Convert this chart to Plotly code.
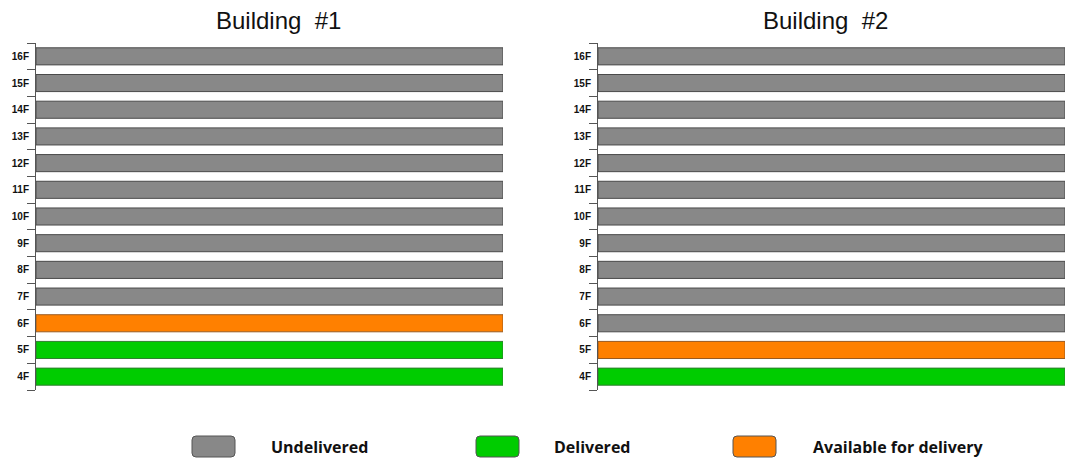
import plotly.graph_objects as go

# Floors of each building, bottom to top
floors = ["4F", "5F", "6F", "7F", "8F", "9F", "10F", "11F", "12F", "13F", "14F", "15F", "16F"]

# Delivery status per floor (same order as floors)
building1_status = ["Delivered", "Delivered", "Available for delivery"] + ["Undelivered"] * 10
building2_status = ["Delivered", "Available for delivery"] + ["Undelivered"] * 11

buildings = ["Building  #1", "Building  #2"]
statuses = ["Undelivered", "Delivered", "Available for delivery"]

fill = {"Undelivered": "#888888", "Delivered": "#00CC00", "Available for delivery": "#FF8000"}
edge = {"Undelivered": "#4a4a4a", "Delivered": "#2f7f2f", "Available for delivery": "#9a5a20"}

W, H = 1074, 460
domains = [(36 / W, 503 / W), (598 / W, 1065 / W)]
title_x = [278, 825]
ydom = (1 - 390 / H, 1 - 43 / H)

fig = go.Figure()
for i, status_list in enumerate([building1_status, building2_status]):
    fig.add_trace(go.Bar(
        x=[1] * len(floors),
        y=floors,
        orientation="h",
        xaxis="x" if i == 0 else "x2",
        yaxis="y" if i == 0 else "y2",
        marker=dict(color=[fill[s] for s in status_list],
                    line=dict(color=[edge[s] for s in status_list], width=1)),
        showlegend=False,
        hoverinfo="y",
    ))

axis_common = dict(range=[0, 1], showgrid=False, zeroline=False, showticklabels=False,
                   showline=False, fixedrange=True)
yaxis_common = dict(type="category", categoryorder="array", categoryarray=floors,
                    showgrid=False, zeroline=False, showline=True, linecolor="#555555",
                    linewidth=1, ticks="outside", tickson="boundaries", ticklen=8,
                    tickcolor="#555555", tickwidth=1, ticklabelstandoff=4,
                    tickfont=dict(family="Liberation Sans, Arial", size=10, color="#111111",
                                  weight="bold"),
                    domain=list(ydom))

fig.update_layout(
    width=W, height=H,
    margin=dict(l=0, r=0, t=0, b=0),
    paper_bgcolor="white", plot_bgcolor="white",
    bargap=0.36,
    xaxis=dict(domain=list(domains[0]), anchor="y", **axis_common),
    xaxis2=dict(domain=list(domains[1]), anchor="y2", **axis_common),
    yaxis=dict(anchor="x", **yaxis_common),
    yaxis2=dict(anchor="x2", **yaxis_common),
)

# Titles above each building
for tx, name in zip(title_x, buildings):
    fig.add_annotation(x=tx / W, y=1 - 21 / H, xref="paper", yref="paper",
                       text=name.replace("  ", "&nbsp; "), showarrow=False,
                       font=dict(family="Liberation Sans, Arial", size=24, color="#111111"),
                       xanchor="center", yanchor="middle")

# Legend with rounded swatches along the bottom
swatch_x = [192, 476, 733]
label_x = [269, 552, 811]
sw_w, sw_h, r = 43, 21, 4
y_top, y_bot = 436, 457
for sx, lx, status in zip(swatch_x, label_x, statuses):
    x0, x1 = sx / W, (sx + sw_w) / W
    y0, y1 = 1 - y_bot / H, 1 - y_top / H
    rx, ry = r / W, r / H
    path = (f"M {x0 + rx} {y0} L {x1 - rx} {y0} Q {x1} {y0} {x1} {y0 + ry} "
            f"L {x1} {y1 - ry} Q {x1} {y1} {x1 - rx} {y1} L {x0 + rx} {y1} "
            f"Q {x0} {y1} {x0} {y1 - ry} L {x0} {y0 + ry} Q {x0} {y0} {x0 + rx} {y0} Z")
    fig.add_shape(type="path", path=path, xref="paper", yref="paper",
                  fillcolor=fill[status], line=dict(color="#555555", width=1))
    fig.add_annotation(x=lx / W, y=1 - 447 / H, xref="paper", yref="paper",
                       text=status, showarrow=False, xanchor="left", yanchor="middle",
                       font=dict(family="Open Sans", size=16, color="#111111", weight="bold"))

fig.write_html("out.html")
